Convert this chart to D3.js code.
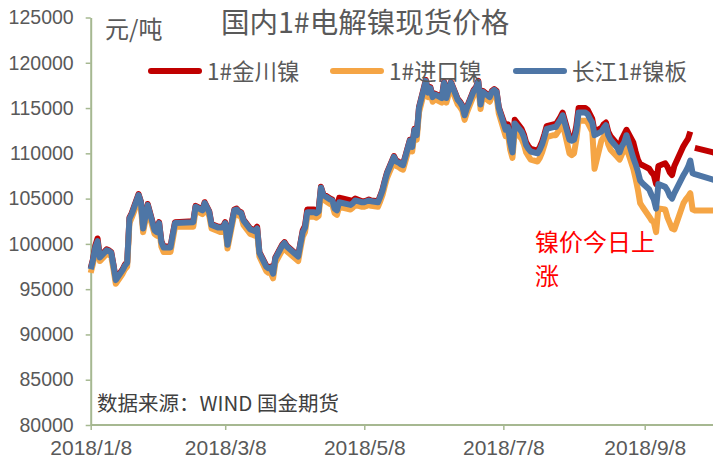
<!DOCTYPE html>
<html>
<head>
<meta charset="utf-8">
<script src="https://cdn.jsdelivr.net/npm/d3@7"></script>
<style>
  body { margin: 0; background: #fff; }
  svg { display: block; font-family: "Noto Sans CJK SC", "Noto Sans", sans-serif; }
</style>
</head>
<body>
<svg id="chart"></svg>
<script>
// trading days, 2018 (one line per month)
const dates = [
  '1/8','1/9','1/10','1/11','1/12','1/15','1/16','1/17','1/18','1/19','1/22','1/23','1/24','1/25','1/26','1/29','1/30','1/31',
  '2/1','2/2','2/5','2/6','2/7','2/8','2/9','2/12','2/13','2/14','2/22','2/23','2/26','2/27','2/28',
  '3/1','3/2','3/5','3/6','3/7','3/8','3/9','3/12','3/13','3/14','3/15','3/16','3/19','3/20','3/21','3/22','3/23','3/26','3/27','3/28','3/29','3/30',
  '4/2','4/3','4/4','4/9','4/10','4/11','4/12','4/13','4/16','4/17','4/18','4/19','4/20','4/23','4/24','4/25','4/26','4/27',
  '5/2','5/3','5/4','5/7','5/8','5/9','5/10','5/11','5/14','5/15','5/16','5/17','5/18','5/21','5/22','5/23','5/24','5/25','5/28','5/29','5/30','5/31',
  '6/1','6/4','6/5','6/6','6/7','6/8','6/11','6/12','6/13','6/14','6/15','6/18','6/19','6/20','6/21','6/22','6/25','6/26','6/27','6/28','6/29',
  '7/2','7/3','7/4','7/5','7/6','7/9','7/10','7/11','7/12','7/13','7/16','7/17','7/18','7/19','7/20','7/23','7/24','7/25','7/26','7/27','7/30','7/31',
  '8/1','8/2','8/3','8/6','8/7','8/8','8/9','8/10','8/13','8/14','8/15','8/16','8/17','8/20','8/21','8/22','8/23','8/24','8/27','8/28','8/29','8/30','8/31',
  '9/3','9/4','9/5','9/6','9/7','9/10','9/11','9/12','9/13','9/14','9/17','9/18','9/19','9/20','9/21','9/25','9/26','9/27','9/28','9/29','9/30',
  '10/8','10/9','10/10'
];

// 1#金川镍
const jinchuan = [
  97300,98300,99800,100600,98600,99400,99300,99100,97700,96100,97200,97700,98000,102900,103400,105500,104700,101800,
  103100,104400,101600,101400,102400,100300,99700,99700,101100,102400,102500,104200,103800,104600,104100,
  103600,102200,101900,101900,101900,102400,100000,103800,103900,103600,103500,102700,101700,101600,101500,101900,99100,97600,97400,97500,96800,98500,
  99900,100200,99800,98700,100100,101500,102000,103800,103800,103700,103900,106300,105500,105000,104900,104000,103800,105100,
  104800,104800,105000,104700,104700,104800,104900,104800,104700,105300,106000,107000,107900,109700,109200,109100,108900,108800,111500,110800,112700,112100,
  115100,118100,116800,117300,116300,116600,116200,117900,116200,117100,117900,116000,115700,115300,114300,115100,117000,117300,118000,115500,116900,
  116300,116900,117100,116900,115100,112900,113200,111500,110400,113700,112700,112100,111200,110800,110500,110300,110700,111300,112100,113000,113200,113200,
  113600,114000,114500,111800,111700,111800,113000,115000,115000,114800,114300,113800,112400,112800,113200,113400,112400,111900,111000,110600,111600,112100,112600,
  111200,110200,109300,108800,108700,108300,107900,107600,106600,108600,108900,108500,107900,107600,108600,110800,111200,111600,112400,null,110600,
  110100,110000,109900
];

// 1#进口镍
const jinkou = [
  96800,97800,99200,99900,98100,98900,98800,98600,97200,95600,96700,97200,97500,102300,102900,104900,104100,101300,
  102600,103800,101100,100900,101800,99700,99100,99100,100500,101900,101900,103700,103300,104000,103600,
  103100,101700,101400,101300,101300,101900,99500,103300,103400,103100,103000,102100,101100,101000,100900,101300,98600,97000,96800,96800,96200,97900,
  99300,99600,99200,98100,99500,100800,101300,103000,103000,102900,103100,105700,104900,104400,104300,103400,103200,104100,
  103800,104000,104300,104100,104100,104200,104300,104200,104100,104700,105400,106400,107300,109100,108600,108500,108300,108200,110900,110200,112100,111500,
  114500,117500,116200,116700,115700,116000,115600,117300,115600,116500,117300,115400,115100,114700,113700,114500,116400,116700,117400,114900,116300,
  115700,116300,116500,116300,114400,111900,112200,110400,109500,112500,111600,111000,110100,109700,109300,109100,109500,110100,110900,111800,112000,112000,
  112400,112800,113300,110000,109800,110000,111500,113600,113600,113400,112900,112400,108300,111400,111800,112200,111000,110400,109600,109300,109900,110300,110600,
  108300,107200,106000,104500,104100,103000,102600,102400,101300,103900,103800,102900,102300,101700,101600,104500,104900,105200,105600,103800,103700,
  103700,103700,103700
];

// 长江1#镍板
const changjiang = [
  97200,98200,99600,100300,98500,99300,99200,99000,97600,96000,97100,97600,97900,102800,103300,105400,104600,101700,
  103000,104300,101500,101300,102300,100200,99600,99600,101000,102300,102400,104100,103700,104500,104000,
  103500,102100,101800,101800,101800,102300,99900,103700,103800,103500,103400,102600,101600,101500,101400,101700,99000,97500,97300,97400,96700,98400,
  99800,100100,99700,98600,100000,101300,101800,103500,103500,103400,103600,106200,105400,104900,104800,103900,103700,104600,
  104300,104500,104800,104600,104600,104700,104800,104700,104600,105200,105900,106900,107800,109600,109100,109000,108800,108700,111400,110700,112600,112000,
  115000,118000,116700,117200,116200,116500,116100,117800,116100,117000,117800,115900,115600,115200,114200,115000,116900,117200,117900,115400,116800,
  116200,116800,117000,116800,115000,112600,112900,111200,110100,113300,112400,111800,110900,110500,110200,110000,110400,111000,111800,112700,112900,112900,
  113300,113700,114200,111500,111400,111500,112500,114500,114500,114300,113800,113400,112000,112400,112800,113100,112000,111500,110600,110100,110800,111200,112000,
  109500,108800,108000,107000,106700,106000,105400,104900,103900,106600,106300,105900,105300,105000,105600,107600,108000,108500,109200,107800,107700,
  107100,107000,106900
];

const seriesNames = ['1#金川镍', '1#进口镍', '长江1#镍板'];
const seriesColors = ['#C00000', '#F5A545', '#4E76A6'];
const xTickLabels = ['2018/1/8', '2018/3/8', '2018/5/8', '2018/7/8', '2018/9/8'];
const yTicks = [80000, 85000, 90000, 95000, 100000, 105000, 110000, 115000, 120000, 125000];

(function(){
    const W = 713, H = 461;
    const svg = d3.select('#chart').attr('width', W).attr('height', H);
    const parse = d3.timeParse('%Y/%m/%d');
    const axisColor = '#A6B891';
    const textColor = '#595959';

    const tickDates = xTickLabels.map(parse);
    const x = d3.scaleTime().domain([tickDates[0], tickDates[tickDates.length - 1]]).range([90.7, 644.7]);
    const y = d3.scaleLinear().domain([80000, 125000]).range([425, 17.5]);

    const days = dates.map(s => parse('2018/' + s));
    const series = [jinchuan, jinkou, changjiang].map((vals, i) => ({
        name: seriesNames[i], color: seriesColors[i],
        values: vals.map((v, j) => ({date: days[j], value: v}))
    }));

    // --- axes ---
    const gy = svg.append('g').attr('transform', `translate(${x.range()[0]},0)`)
        .call(d3.axisLeft(y).tickValues(yTicks).tickFormat(d3.format('d')).tickSize(5).tickSizeOuter(0).tickPadding(12));
    gy.select('.domain').attr('stroke', axisColor).attr('stroke-width', 2);
    gy.selectAll('.tick line').attr('stroke', axisColor).attr('stroke-width', 1.5);
    gy.selectAll('.tick text').style('font-size', '19.5px').attr('fill', textColor);

    const gx = svg.append('g').attr('transform', `translate(0,${y(80000)})`)
        .call(d3.axisBottom(x).tickValues(tickDates).tickFormat((d, i) => xTickLabels[i]).tickSize(5).tickSizeOuter(0).tickPadding(10));
    gx.select('.domain').remove();
    gx.append('line').attr('x1', x.range()[0]).attr('x2', W).attr('stroke', axisColor).attr('stroke-width', 2);
    gx.selectAll('.tick line').attr('stroke', axisColor).attr('stroke-width', 1.5);
    gx.selectAll('.tick text').style('font-size', '21px').attr('fill', textColor);

    // --- lines ---
    const line = d3.line().defined(d => d.value != null).x(d => x(d.date)).y(d => y(d.value));
    svg.append('g').selectAll('path').data(series).join('path')
        .attr('fill', 'none')
        .attr('stroke', d => d.color)
        .attr('stroke-width', 6)
        .attr('stroke-linejoin', 'round')
        .attr('stroke-linecap', 'butt')
        .attr('d', d => line(d.values));

    // --- title, unit, legend ---
    svg.append('text').attr('x', 221).attr('y', 33)
        .style('font-size', '28.5px').attr('fill', textColor).text('国内1#电解镍现货价格');
    svg.append('text').attr('x', 105).attr('y', 38)
        .style('font-size', '24px').attr('fill', textColor).text('元/吨');

    const legendX = [148, 330, 513];
    const lg = svg.append('g').selectAll('g').data(series).join('g')
        .attr('transform', (d, i) => `translate(${legendX[i]},71)`);
    lg.append('line').attr('x1', 3).attr('x2', 51)
        .attr('stroke', d => d.color).attr('stroke-width', 6).attr('stroke-linecap', 'round');
    lg.append('text').attr('x', 59).attr('y', 9)
        .style('font-size', '22.5px').attr('fill', textColor).text(d => d.name);

    // --- notes ---
    const note = svg.append('text').attr('x', 535).attr('y', 251)
        .style('font-size', '24px').attr('fill', '#FF0000');
    note.append('tspan').text('镍价今日上');
    note.append('tspan').attr('x', 535).attr('y', 285).text('涨');

    svg.append('text').attr('x', 97).attr('y', 411)
        .style('font-size', '20.5px').attr('fill', '#404040').text('数据来源：WIND 国金期货');
})();
</script>
</body>
</html>
